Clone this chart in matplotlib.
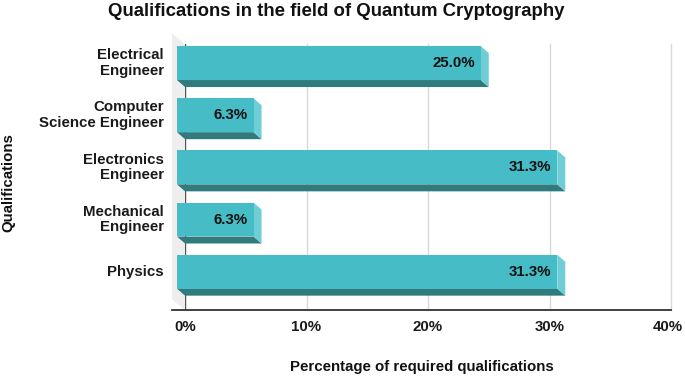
import matplotlib
matplotlib.use("Agg")
import matplotlib.pyplot as plt
from matplotlib.patches import Polygon

plt.rcParams['font.family'] = ['Liberation Sans', 'DejaVu Sans']

categories = ["Electrical\nEngineer", "Computer\nScience Engineer", "Electronics\nEngineer",
              "Mechanical\nEngineer", "Physics"]
values = [25.0, 6.3, 31.3, 6.3, 31.3]
value_labels = ["25.0%", "6.3%", "31.3%", "6.3%", "31.3%"]
xticks = [0, 10, 20, 30, 40]
xtick_labels = ["0%", "10%", "20%", "30%", "40%"]

W, H = 685, 376
fig = plt.figure(figsize=(W / 100, H / 100), dpi=100)
ax_l, ax_r, ax_t, ax_b = 185, 671, 44, 310
ax = fig.add_axes([ax_l / W, (H - ax_b) / H, (ax_r - ax_l) / W, (ax_b - ax_t) / H])
xmin, xmax = 0, 40
ymin, ymax = -0.6, 4.5
ax.set_xlim(xmin, xmax)
ax.set_ylim(ymin, ymax)
ax.axis("off")

pxx = (ax_r - ax_l) / (xmax - xmin)   # px per x unit
pxy = (ax_b - ax_t) / (ymax - ymin)   # px per y unit
dx = 8 / pxx
dy = 7 / pxy
wdx = 13 / pxx
wdy = 10.5 / pxy

FACE = "#46BCC6"
BOTTOM = "#2F7B7E"
SIDE = "#6FCED5"
GRID = "#D9D9D9"
FS = 10.8

# back wall
ax.add_patch(Polygon([(-wdx, ymin + wdy), (0, ymin), (0, ymax), (-wdx, ymax + wdy)],
                     closed=True, facecolor="#EEEEEE", edgecolor="none", clip_on=False, zorder=0))
# gridlines
for t in xticks[1:]:
    ax.plot([t, t], [ymin, ymax], color=GRID, lw=1, zorder=1, clip_on=False)
ax.plot([0, 0], [ymin, ymax], color="#555555", lw=1, zorder=1)
ax.plot([-wdx, xmax], [ymin, ymin], color="#333333", lw=1.3, zorder=1, clip_on=False)

h = 0.65
n = len(categories)
for i, (cat, v, lab) in enumerate(zip(categories, values, value_labels)):
    c = n - 1 - i
    y0, y1 = c - h / 2, c + h / 2
    # bottom face
    ax.add_patch(Polygon([(-dx, y0 + dy), (v - dx, y0 + dy), (v, y0), (0, y0)],
                         closed=True, facecolor=BOTTOM, edgecolor="none", zorder=3, clip_on=False))
    # right face
    ax.add_patch(Polygon([(v - dx, y0 + dy), (v - dx, y1 + dy), (v, y1), (v, y0)],
                         closed=True, facecolor=SIDE, edgecolor="none", zorder=3, clip_on=False))
    # front face
    ax.barh(c + dy, v, height=h, left=-dx, color=FACE, zorder=4, clip_on=False)
    ax.text(v - dx - 6 / pxx, c + dy, lab, ha="right", va="center", fontsize=FS,
            fontweight="bold", color="#111111", zorder=5)
    # category labels
    fig.text(164 / W, 1 - (ax_b - (c + dy - ymin) * pxy) / H, cat, ha="right", va="center",
             fontsize=FS, fontweight="bold", color="#1a1a1a", linespacing=1.15)

for k, (t, tl) in enumerate(zip(xticks, xtick_labels)):
    shift = -3 / pxx if k == len(xticks) - 1 else 0
    ax.text(t + shift, ymin - 17 / pxy, tl, ha="center", va="center", fontsize=FS,
            fontweight="bold", color="#1a1a1a", clip_on=False)

fig.text(336 / W, 1 - 11 / H, "Qualifications in the field of Quantum Cryptography",
         ha="center", va="center", fontsize=13.4, fontweight="bold", color="#111111")
fig.text(422 / W, 1 - 367 / H, "Percentage of required qualifications",
         ha="center", va="center", fontsize=FS, fontweight="bold", color="#111111")
fig.text(8 / W, 1 - 183 / H, "Qualifications", ha="center", va="center", rotation=90,
         fontsize=FS, fontweight="bold", color="#111111")

fig.savefig("out.png", dpi=100)
